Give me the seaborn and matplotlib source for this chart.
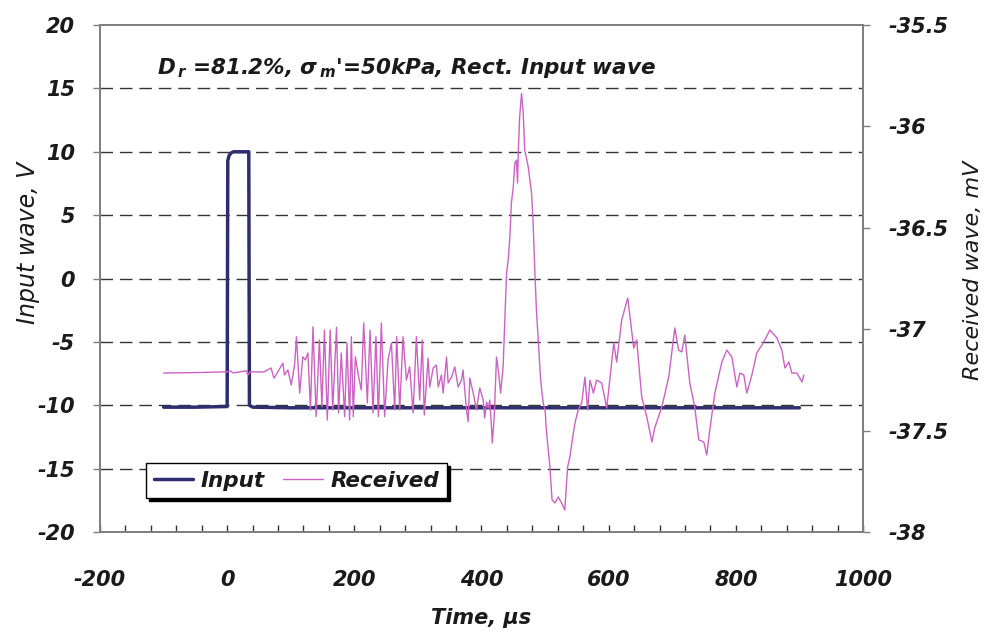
import matplotlib
matplotlib.use("Agg")
import matplotlib.pyplot as plt
from matplotlib.ticker import MultipleLocator
import pandas as pd
import seaborn as sns

# Input (rectangular) wave, V
input_time = [-100, -50, 0, 1, 3, 6, 10, 20, 34, 35, 40, 100, 300, 600, 900]
input_volt = [-10.15, -10.15, -10.1, 9.3, 9.7, 9.9, 10.0, 10.0, 10.0, -10.0, -10.15, -10.2, -10.2, -10.2, -10.2]

# Received wave, mV
recv_time = [
    -100, -50, 0, 5, 10, 30, 33, 36, 58,
    69, 73.5, 78.7, 87.7, 90, 95.5, 100.8, 106, 109, 114, 119, 123, 127, 131,
    135, 140, 145, 149, 153, 157.5, 162, 166, 172, 175.3, 179.5, 184.8, 188.5,
    192.6, 195.3, 198.4, 201.6, 206.8, 211, 214.7, 220.5, 224.7, 229.4, 234,
    237.8, 242.5, 247.7, 253, 258.3, 263.5, 266.6, 271.4, 276.6, 281.9, 287,
    292.4, 297.6, 302.8, 307, 310, 316, 318.6, 324, 329, 332, 337, 339.7, 345,
    347.5, 352.8, 358, 363.3, 368.5, 371, 376.4, 379, 381.6, 387, 392, 397.3,
    402.7, 405, 408, 410.6, 413, 415.7, 417, 420, 423.6, 427, 430, 434, 436.7,
    439.4, 442, 444.6, 447, 450, 452.4, 455, 456.7, 458, 460, 463, 465.6, 468,
    473.5, 478.7, 481, 484, 486.6, 490, 493, 497, 500, 502, 507.6, 511, 515.4,
    520.8, 526, 531, 535.4, 539, 542.8, 547, 552, 557.5, 562.7, 567, 570.6, 576,
    581, 589, 597, 608, 612.6, 620.5, 630, 639.4, 644, 652, 660, 668, 672.4,
    683.5, 694.5, 704, 710, 715, 719.7, 727.6, 735.4, 741.7, 749.6, 754.3, 759,
    767, 778, 785.8, 793.7, 801.6, 806.3, 812.6, 817.3, 825.2, 833, 844, 853.5,
    864.6, 872.4, 877.2, 883.5, 888, 896, 904, 907,
]
recv_mv = [
    -37.216, -37.214, -37.210, -37.206, -37.216, -37.205, -37.225, -37.210, -37.211,
    -37.191, -37.241, -37.216, -37.167, -37.226, -37.201, -37.275, -37.177, -37.037,
    -37.315, -37.136, -37.152, -37.117, -37.398,
    -36.988, -37.431, -37.053, -37.382, -37.004, -37.448, -37.004, -37.398, -36.990,
    -37.413, -37.117, -37.431, -37.068,
    -37.448, -37.037, -37.431, -37.136, -37.235, -37.300, -36.969, -37.364, -37.004,
    -37.413, -37.037,
    -37.431, -36.969, -37.431, -37.152, -37.068, -37.398, -37.037, -37.398, -37.037,
    -37.251, -37.185,
    -37.413, -37.037, -37.349, -37.053, -37.423, -37.142, -37.285, -37.191, -37.177,
    -37.285, -37.226, -37.315, -37.137,
    -37.265, -37.236, -37.186, -37.285, -37.251, -37.201, -37.398, -37.456, -37.241,
    -37.315, -37.398, -37.290,
    -37.349, -37.438, -37.359, -37.389, -37.349, -37.482, -37.561, -37.433, -37.137,
    -37.216, -37.315, -37.186, -36.955,
    -36.723, -36.659, -36.545, -36.378, -36.299, -36.180, -36.166, -36.279, -36.116,
    -35.954, -35.837, -35.934, -36.116,
    -36.200, -36.328, -36.462, -36.723, -36.920, -37.088, -37.251, -37.364, -37.398,
    -37.497, -37.680, -37.842, -37.857,
    -37.827, -37.857, -37.892, -37.680, -37.630, -37.546, -37.463, -37.398, -37.364,
    -37.236, -37.398, -37.251, -37.315,
    -37.251, -37.265, -37.389, -37.068, -37.162, -36.955, -36.846, -37.093, -37.053,
    -37.334, -37.433, -37.556, -37.487,
    -37.384, -37.236, -36.994, -37.103, -37.112, -37.029, -37.265, -37.384, -37.546,
    -37.556, -37.620, -37.497,
    -37.315, -37.162, -37.103, -37.137, -37.285, -37.216, -37.226, -37.315, -37.226,
    -37.117, -37.063, -37.004,
    -37.043, -37.103, -37.191, -37.162, -37.216, -37.216, -37.260, -37.226,
]

left_ticks = [-20, -15, -10, -5, 0, 5, 10, 15, 20]
right_ticks = [-38, -37.5, -37, -36.5, -36, -35.5]
x_ticks = [-200, 0, 200, 400, 600, 800, 1000]

sns.set_style("white")
plt.rcParams["font.family"] = ["DejaVu Sans"]
plt.rcParams["mathtext.fontset"] = "custom"
plt.rcParams["mathtext.it"] = "DejaVu Sans:italic:bold"
plt.rcParams["mathtext.rm"] = "DejaVu Sans:italic:bold"
plt.rcParams["mathtext.bf"] = "DejaVu Sans:italic:bold"

input_df = pd.DataFrame({"time": input_time, "volt": input_volt})
recv_df = pd.DataFrame({"time": recv_time, "mv": recv_mv})

navy = "#2E2E6E"
pink = "#CC62C4"
spine_grey = "#7F7F7F"
text_col = "#1a1a1a"

fig = plt.figure(figsize=(9.89, 6.35), dpi=100)
ax = fig.add_axes([0.1011, 0.1622, 0.7715, 0.7984])
ax2 = ax.twinx()

sns.lineplot(data=input_df, x="time", y="volt", ax=ax, color=navy, lw=2.5,
             sort=False, estimator=None, label="Input", legend=False)
sns.lineplot(data=recv_df, x="time", y="mv", ax=ax2, color=pink, lw=1.0,
             sort=False, estimator=None, label="Received", legend=False)

ax.set_xlim(-200, 1000)
ax.set_ylim(-20, 20)
ax2.set_ylim(-38, -35.5)

ax.set_xticks(x_ticks)
ax.set_xticklabels([str(v) for v in x_ticks])
ax.xaxis.set_minor_locator(MultipleLocator(40))
ax.set_yticks(left_ticks)
ax.set_yticklabels([str(v) for v in left_ticks])
ax2.set_yticks(right_ticks)
ax2.set_yticklabels([f"{v:g}" for v in right_ticks])

# dashed horizontal gridlines at the inner voltage ticks
for v in left_ticks[1:-1]:
    ax.axhline(v, color="#333333", lw=1.0, ls=(0, (9, 5)), zorder=0.5)

for lab in ax.get_xticklabels() + ax.get_yticklabels() + ax2.get_yticklabels():
    lab.set_fontsize(15)
    lab.set_fontweight("bold")
    lab.set_fontstyle("italic")
    lab.set_color(text_col)

ax.tick_params(axis="x", which="both", direction="in", length=5, width=1,
               color="#333333", pad=27, bottom=True)
ax.tick_params(axis="y", which="major", direction="out", length=5, width=1,
               color=spine_grey, pad=13, left=True)
ax2.tick_params(axis="y", which="major", direction="out", length=5, width=1,
                color=spine_grey, pad=13, right=True)

for a in (ax, ax2):
    for s in a.spines.values():
        s.set_color(spine_grey)
        s.set_linewidth(1.3)
        s.set_visible(True)
ax2.patch.set_visible(False)

ax.set_xlabel("Time, µs", fontsize=15, fontweight="bold", fontstyle="italic",
              color=text_col)
ax.set_ylabel("Input wave, V", fontsize=17, fontstyle="italic", color=text_col)
ax2.set_ylabel("Received wave, mV", fontsize=16, fontstyle="italic",
               rotation=90, color=text_col)
ax.xaxis.set_label_coords(0.5, -0.15)
ax.yaxis.set_label_coords(-0.079, 0.57)
ax2.yaxis.set_label_coords(1.131, 0.517)

ax.text(0.0747, 0.903, r"$D_{\,r}$ =81.2%, $\sigma_{\,m}$'=50kPa, Rect. Input wave",
        transform=ax.transAxes, fontsize=15.5, fontweight="bold", fontstyle="italic",
        ha="left", va="baseline", color=text_col)

h1, l1 = ax.get_legend_handles_labels()
h2, l2 = ax2.get_legend_handles_labels()
leg = ax2.legend(h1 + h2, l1 + l2, loc="lower left", bbox_to_anchor=(0.0603, 0.067),
                 borderaxespad=0, ncol=2, frameon=True, fancybox=False,
                 shadow={"color": "black", "alpha": 1.0},
                 prop={"family": "DejaVu Sans", "size": 15.5, "weight": "bold",
                       "style": "italic"},
                 handlelength=1.85, columnspacing=0.85, handletextpad=0.35,
                 borderpad=0.35)
leg.get_frame().set_edgecolor("black")
leg.get_frame().set_linewidth(1.0)
for t in leg.get_texts():
    t.set_color(text_col)
leg.set_zorder(10)

fig.savefig("out.png", dpi=100)
